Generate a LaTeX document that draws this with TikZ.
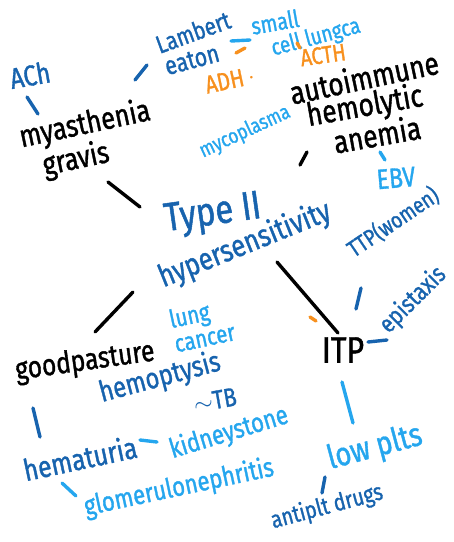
\documentclass[tikz,border=0pt]{standalone}
\usepackage{fontspec}
\setmainfont{Fira Sans}[FakeStretch=0.82,FakeBold=1.2]
\definecolor{dblue}{HTML}{1763AE}
\definecolor{lblue}{HTML}{25A6EE}
\definecolor{orng}{HTML}{F7901E}
\newcommand{\fs}[1]{\fontsize{#1}{#1}\selectfont}
\begin{document}
\begin{tikzpicture}[x=1pt,y=-1pt,
  lbl/.style={inner sep=0pt,align=center},
  dk/.style={lbl,text=dblue},
  lt/.style={lbl,text=lblue},
  bk/.style={lbl,text=black},
  og/.style={lbl,text=orng},
  stroke/.style={line width=3.4pt,line cap=round},
  sdk/.style={stroke,draw=dblue},
  slt/.style={stroke,draw=lblue},
  sbk/.style={stroke,draw=black},
  sog/.style={stroke,draw=orng}]
\useasboundingbox (0,0) rectangle (454,542);
% labels
\node[dk,font=\fs{29},rotate=10] (ach) at (30,75) {ACh};
\node[bk,font=\fs{31},rotate=12] (mg1) at (85,125) {myasthenia};
\node[bk,font=\fs{31},rotate=12] (mg2) at (76,160) {gravis};
\node[dk,font=\fs{25},rotate=20] (le1) at (193,32) {Lambert};
\node[dk,font=\fs{26},rotate=15] (le2) at (192,60) {eaton};
\node[lt,font=\fs{24},rotate=10] (sm) at (275,22) {small};
\node[lt,font=\fs{23},rotate=15] (cl) at (316,38) {cell lungca};
\node[og,font=\fs{25},rotate=12] (adh) at (230,80) {ADH\,$\cdot$};
\node[og,font=\fs{24},rotate=8] (acth) at (323,55) {ACTH};
\node[bk,font=\fs{32},rotate=12] (ai1) at (364,77) {autoimmune};
\node[bk,font=\fs{32},rotate=10] (ai2) at (365,107) {hemolytic};
\node[bk,font=\fs{32},rotate=10] (ai3) at (377,134) {anemia};
\node[lt,font=\fs{21},rotate=25] (myc) at (245,132) {mycoplasma};
\node[lt,font=\fs{28},rotate=5] (ebv) at (396,178) {EBV};
\node[dk,font=\fs{40},rotate=8] (t2a) at (213,215) {Type II};
\node[dk,font=\fs{31},rotate=22] (t2b) at (245,245) {hypersensitivity};
\node[dk,font=\fs{23},rotate=34] (ttp) at (393,222) {TTP(women)};
\node[bk,font=\fs{37}] (itp) at (343,350) {ITP};
\node[dk,font=\fs{25},rotate=45] (epi) at (413,300) {epistaxis};
\node[lt,font=\fs{33},rotate=15] (low) at (375,448) {low plts};
\node[dk,font=\fs{24},rotate=15] (anti) at (327,507) {antiplt drugs};
\node[bk,font=\fs{30},rotate=8] (gp) at (85,362) {goodpasture};
\node[lt,font=\fs{25},rotate=12,align=left] (lc) at (202,325) {lung\\ cancer};
\node[dk,font=\fs{29},rotate=15] (hem) at (160,378) {hemoptysis};
\node[dk,font=\fs{26},rotate=10] (tb) at (215,400) {$\sim$TB};
\node[dk,font=\fs{30},rotate=12] (hmt) at (80,458) {hematuria};
\node[lt,font=\fs{27},rotate=17] (ks) at (229,433) {kidneystone};
\node[lt,font=\fs{27},rotate=12] (gn) at (179,488) {glomerulonephritis};
% stroke end points
\coordinate (a1) at (27,97);   \coordinate (a2) at (38,114);
\coordinate (b1) at (135,80);  \coordinate (b2) at (147,65);
\coordinate (c1) at (231,41);  \coordinate (c2) at (250,40);
\coordinate (d1) at (236,53);  \coordinate (d2) at (245,48);
\coordinate (e1) at (297,43);  \coordinate (e2) at (300,48);
\coordinate (f1) at (300,165); \coordinate (f2) at (307,152);
\coordinate (g1) at (380,152); \coordinate (g2) at (385,160);
\coordinate (h1) at (108,182); \coordinate (h2) at (140,207);
\coordinate (i1) at (277,262); \coordinate (i2) at (338,333);
\coordinate (j1) at (310,317); \coordinate (j2) at (316,321);
\coordinate (k1) at (361,288); \coordinate (k2) at (356,309);
\coordinate (l1) at (368,342); \coordinate (l2) at (387,340);
\coordinate (m1) at (342,382); \coordinate (m2) at (353,423);
\coordinate (n1) at (325,477); \coordinate (n2) at (322,493);
\coordinate (o1) at (133,292); \coordinate (o2) at (95,332);
\coordinate (p1) at (33,408);  \coordinate (p2) at (40,437);
\coordinate (q1) at (140,440); \coordinate (q2) at (157,442);
\coordinate (r1) at (62,483);  \coordinate (r2) at (76,496);
% strokes
\draw[sdk] (a1) -- (a2);
\draw[sdk] (b1) -- (b2);
\draw[slt] (c1) -- (c2);
\draw[sog] (d1) -- (d2);
\draw[sog] (e1) -- (e2);
\draw[sbk] (f1) -- (f2);
\draw[slt] (g1) -- (g2);
\draw[sbk] (h1) -- (h2);
\draw[sbk] (i1) -- (i2);
\draw[sog] (j1) -- (j2);
\draw[sdk] (k1) -- (k2);
\draw[sdk] (l1) -- (l2);
\draw[slt] (m1) -- (m2);
\draw[sdk] (n1) -- (n2);
\draw[sbk] (o1) -- (o2);
\draw[sdk] (p1) -- (p2);
\draw[slt] (q1) -- (q2);
\draw[slt] (r1) -- (r2);
\end{tikzpicture}
\end{document}
